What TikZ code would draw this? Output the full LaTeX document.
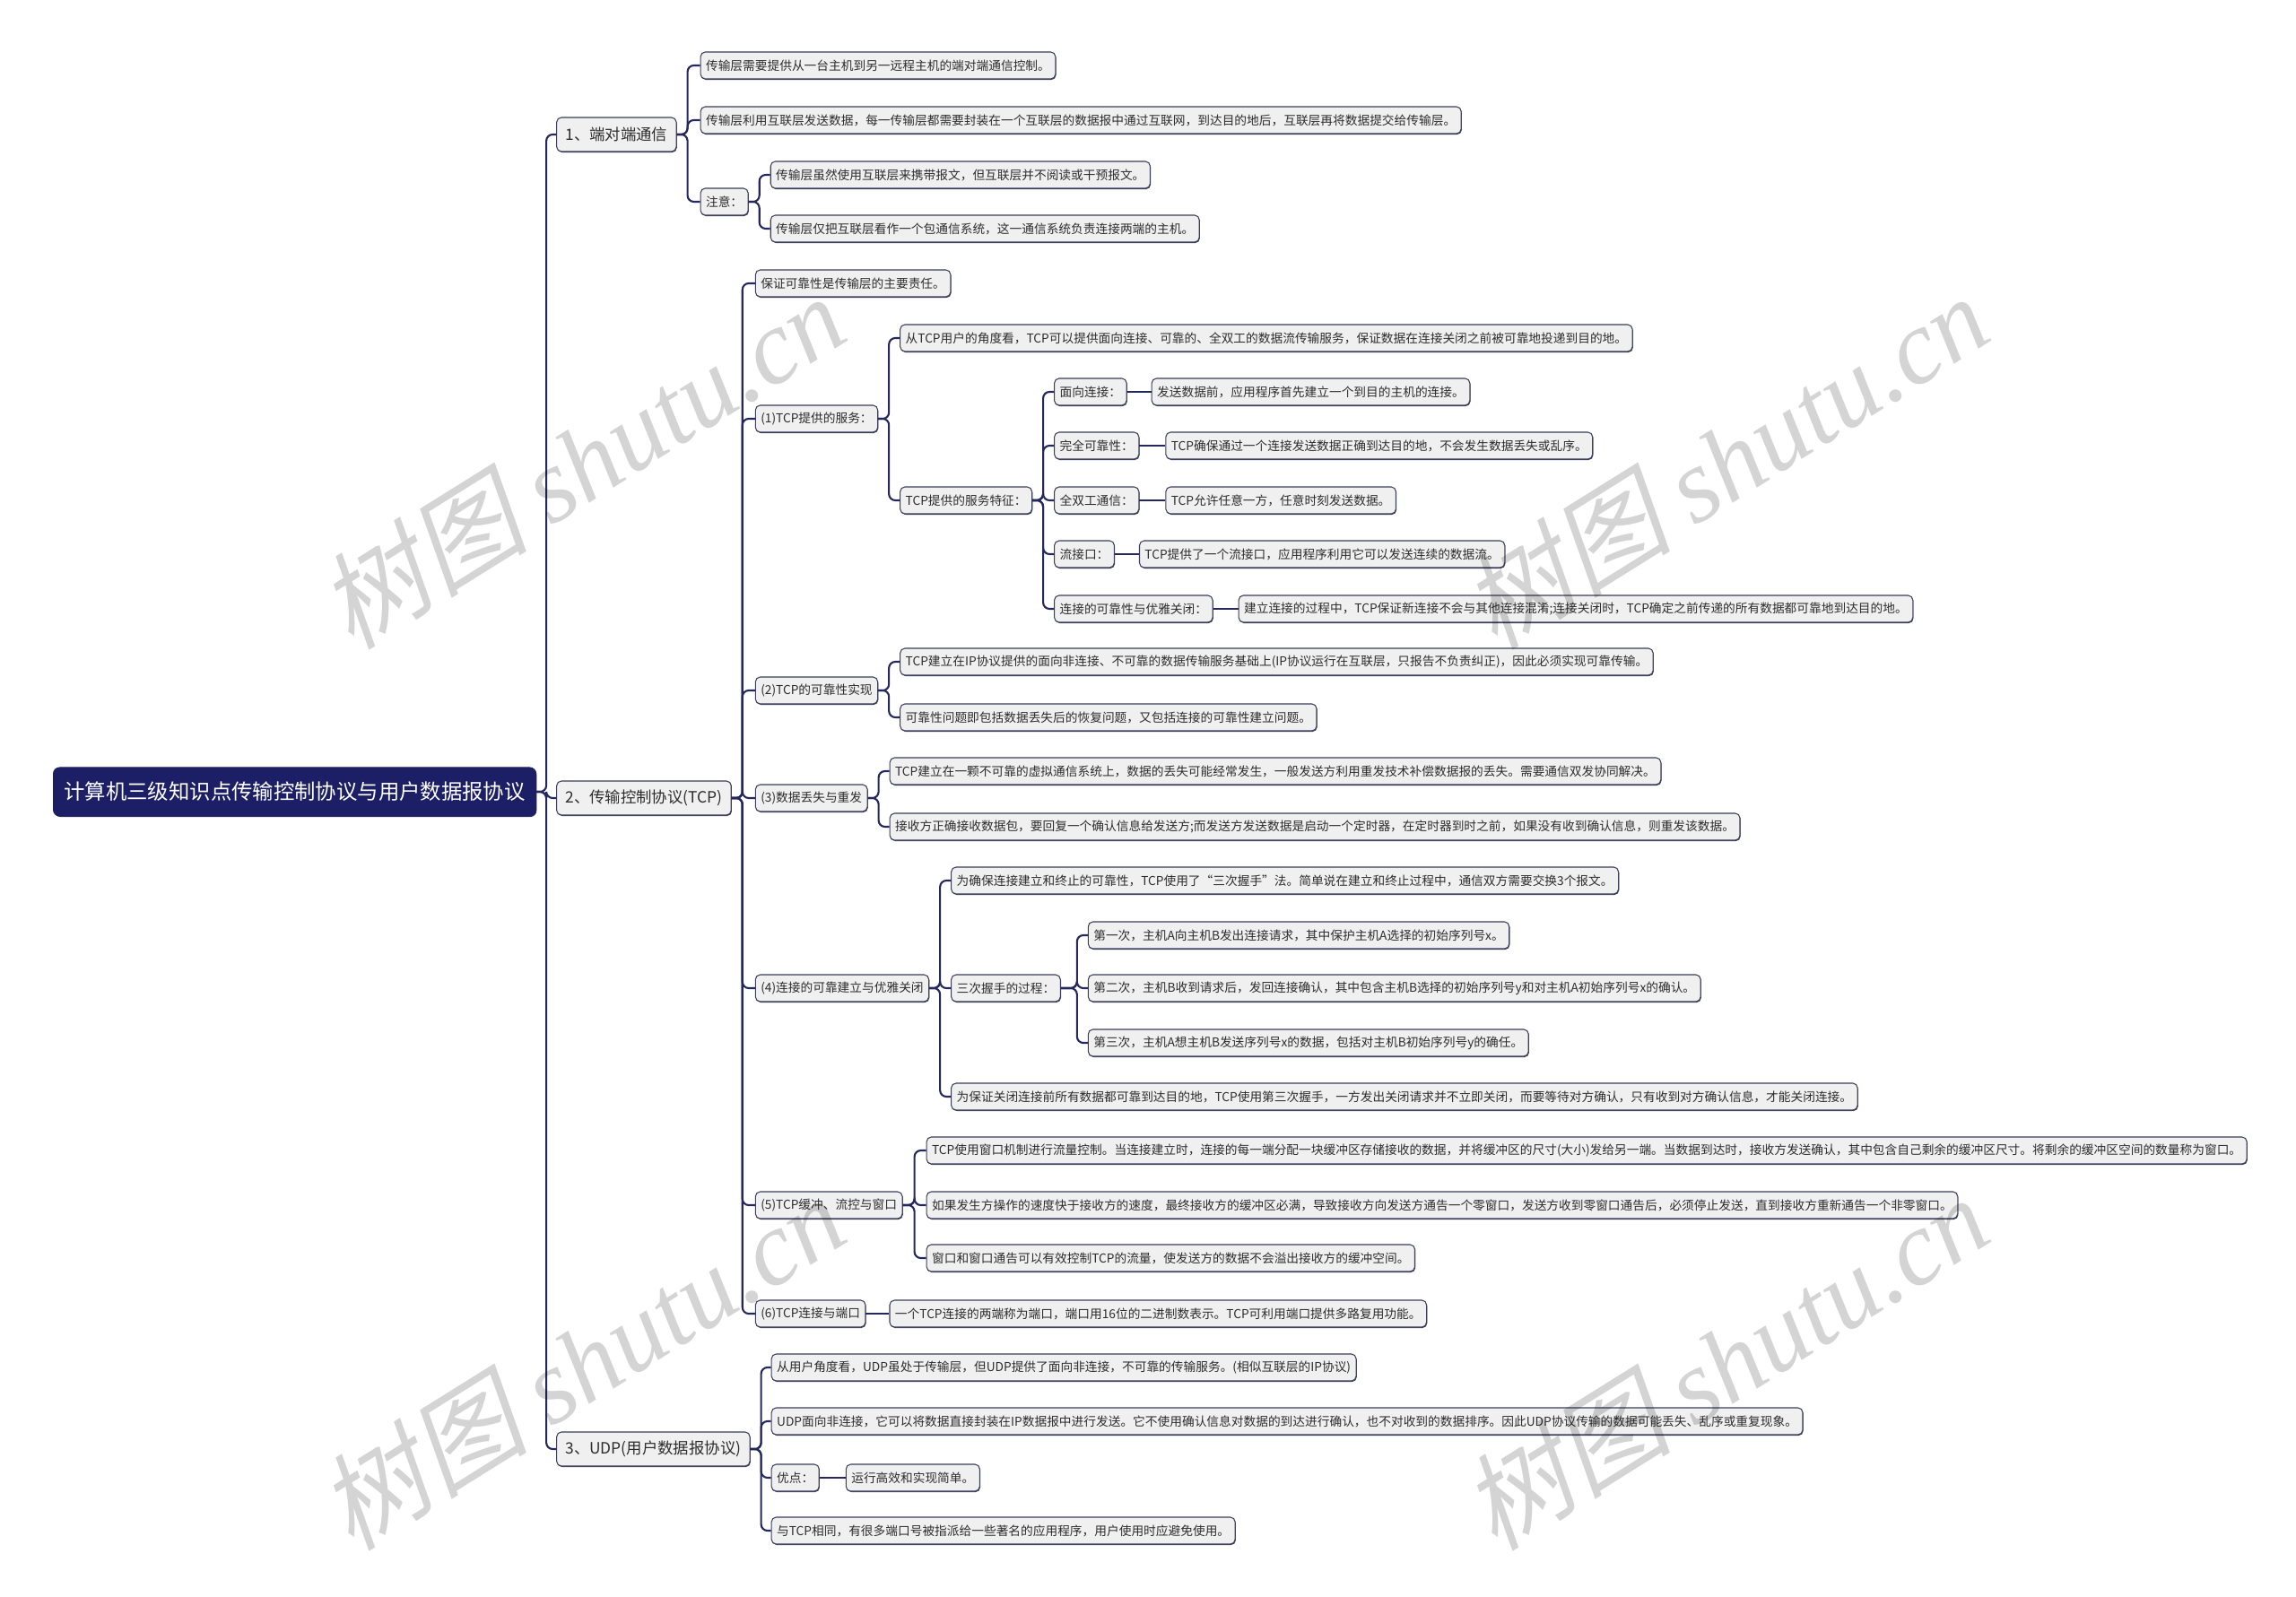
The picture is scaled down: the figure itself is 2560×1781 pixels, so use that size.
\documentclass[tikz,border=0pt]{standalone}
\usepackage{fontspec}
\setmainfont{Noto Sans CJK SC}
\newfontfamily\markcjk{Noto Sans CJK SC}[FakeSlant=0.22]
\newfontfamily\marklatin{Liberation Serif}
\usetikzlibrary{positioning, calc, shadows}
\definecolor{rootnavy}{RGB}{28, 31, 102}
\definecolor{linknavy}{RGB}{36, 40, 92}
\definecolor{boxline}{RGB}{60, 62, 90}
\definecolor{boxfill}{RGB}{240, 240, 240}
\definecolor{textgray}{RGB}{45, 45, 45}

\begin{document}
\begin{tikzpicture}[
    x=0.2mm, y=-0.2mm,
    leaf/.style={draw=boxline, fill=boxfill, line width=0.6pt, rounded corners=3pt,
        text=textgray, font=\fontsize{7.8}{9}\selectfont, inner xsep=3.4pt, inner ysep=0pt,
        minimum height=6mm, anchor=west,
        general shadow={fill=boxline, shadow xshift=0.4pt, shadow yshift=-0.6pt}},
    topic/.style={leaf, font=\fontsize{9.9}{11}\selectfont, inner xsep=5.5pt, minimum height=7.6mm},
    root/.style={topic, fill=rootnavy, draw=rootnavy, text=white, font=\fontsize{13.3}{15}\selectfont,
        inner xsep=6.8pt, minimum height=10.8mm, rounded corners=4pt},
    link/.style={draw=linknavy, line width=1.2pt, rounded corners=4pt},
    wmark/.style={rotate=32, text=black, text opacity=0.17, font=\fontsize{67}{72}\selectfont},
]
\useasboundingbox (0,0) rectangle (2560,1781);

% ===== 中心主题 =====
\node[root] (root) at (59,883) {计算机三级知识点传输控制协议与用户数据报协议};

% ===== 一级分支 =====
\node[topic] (p2p) at ($(root.east)+(22,-733)$) {1、端对端通信};
\node[topic] (tcp) at ($(root.east)+(22,7)$) {2、传输控制协议(TCP)};
\node[topic] (udp) at ($(root.east)+(22,733)$) {3、UDP(用户数据报协议)};

\foreach \k in {p2p, tcp, udp}
    \draw[link] (root.east) -- ++(11,0) |- (\k.west);

% ===== 1、端对端通信 =====
\node[leaf] (p2pa) at ($(p2p.east)+(26,-77)$) {传输层需要提供从一台主机到另一远程主机的端对端通信控制。};
\node[leaf] (p2pb) at ($(p2p.east)+(26,-16)$) {传输层利用互联层发送数据，每一传输层都需要封装在一个互联层的数据报中通过互联网，到达目的地后，互联层再将数据提交给传输层。};
\node[leaf] (note) at ($(p2p.east)+(26,75)$) {注意：};
\node[leaf] (notea) at ($(note.east)+(24,-30)$) {传输层虽然使用互联层来携带报文，但互联层并不阅读或干预报文。};
\node[leaf] (noteb) at ($(note.east)+(24,30)$) {传输层仅把互联层看作一个包通信系统，这一通信系统负责连接两端的主机。};

\foreach \k in {p2pa, p2pb, note}
    \draw[link] (p2p.east) -- ++(12,0) |- (\k.west);
\foreach \k in {notea, noteb}
    \draw[link] (note.east) -- ++(12,0) |- (\k.west);

% ===== 2、传输控制协议(TCP) =====
\node[leaf] (duty) at ($(tcp.east)+(26,-574)$) {保证可靠性是传输层的主要责任。};
\node[leaf] (svc)  at ($(tcp.east)+(26,-423)$) {(1)TCP提供的服务：};
\node[leaf] (rel)  at ($(tcp.east)+(26,-120)$) {(2)TCP的可靠性实现};
\node[leaf] (loss) at ($(tcp.east)+(26,0)$) {(3)数据丢失与重发};
\node[leaf] (conn) at ($(tcp.east)+(26,212)$) {(4)连接的可靠建立与优雅关闭};
\node[leaf] (flow) at ($(tcp.east)+(26,454)$) {(5)TCP缓冲、流控与窗口};
\node[leaf] (port) at ($(tcp.east)+(26,575)$) {(6)TCP连接与端口};

\foreach \k in {duty, svc, rel, loss, conn, flow, port}
    \draw[link] (tcp.east) -- ++(12,0) |- (\k.west);

% (1) 服务
\node[leaf] (svca) at ($(svc.east)+(24,-90)$) {从TCP用户的角度看，TCP可以提供面向连接、可靠的、全双工的数据流传输服务，保证数据在连接关闭之前被可靠地投递到目的地。};
\node[leaf] (feat) at ($(svc.east)+(24,91)$) {TCP提供的服务特征：};
\foreach \k in {svca, feat}
    \draw[link] (svc.east) -- ++(12,0) |- (\k.west);

\node[leaf] (feat1) at ($(feat.east)+(24,-121)$) {面向连接：};
\node[leaf] (feat2) at ($(feat.east)+(24,-61)$) {完全可靠性：};
\node[leaf] (feat3) at ($(feat.east)+(24,0)$) {全双工通信：};
\node[leaf] (feat4) at ($(feat.east)+(24,60)$) {流接口：};
\node[leaf] (feat5) at ($(feat.east)+(24,121)$) {连接的可靠性与优雅关闭：};
\foreach \k in {feat1, feat2, feat3, feat4, feat5}
    \draw[link] (feat.east) -- ++(12,0) |- (\k.west);

\node[leaf, right=5.4mm of feat1] (feat1t) {发送数据前，应用程序首先建立一个到目的主机的连接。};
\node[leaf, right=5.8mm of feat2] (feat2t) {TCP确保通过一个连接发送数据正确到达目的地，不会发生数据丢失或乱序。};
\node[leaf, right=5.8mm of feat3] (feat3t) {TCP允许任意一方，任意时刻发送数据。};
\node[leaf, right=5.4mm of feat4] (feat4t) {TCP提供了一个流接口，应用程序利用它可以发送连续的数据流。};
\node[leaf, right=5.6mm of feat5] (feat5t) {建立连接的过程中，TCP保证新连接不会与其他连接混淆;连接关闭时，TCP确定之前传递的所有数据都可靠地到达目的地。};
\foreach \i in {1,...,5}
    \draw[link] (feat\i.east) -- (feat\i t.west);

% (2) 可靠性
\node[leaf] (rela) at ($(rel.east)+(24,-32)$) {TCP建立在IP协议提供的面向非连接、不可靠的数据传输服务基础上(IP协议运行在互联层，只报告不负责纠正)，因此必须实现可靠传输。};
\node[leaf] (relb) at ($(rel.east)+(24,30)$) {可靠性问题即包括数据丢失后的恢复问题，又包括连接的可靠性建立问题。};
\foreach \k in {rela, relb}
    \draw[link] (rel.east) -- ++(12,0) |- (\k.west);

% (3) 丢失与重发
\node[leaf] (lossa) at ($(loss.east)+(24,-30)$) {TCP建立在一颗不可靠的虚拟通信系统上，数据的丢失可能经常发生，一般发送方利用重发技术补偿数据报的丢失。需要通信双发协同解决。};
\node[leaf] (lossb) at ($(loss.east)+(24,32)$) {接收方正确接收数据包，要回复一个确认信息给发送方;而发送方发送数据是启动一个定时器，在定时器到时之前，如果没有收到确认信息，则重发该数据。};
\foreach \k in {lossa, lossb}
    \draw[link] (loss.east) -- ++(12,0) |- (\k.west);

% (4) 建立与关闭
\node[leaf] (conna) at ($(conn.east)+(24,-120)$) {为确保连接建立和终止的可靠性，TCP使用了“三次握手”法。简单说在建立和终止过程中，通信双方需要交换3个报文。};
\node[leaf] (shake) at ($(conn.east)+(24,0)$) {三次握手的过程：};
\node[leaf] (connb) at ($(conn.east)+(24,121)$) {为保证关闭连接前所有数据都可靠到达目的地，TCP使用第三次握手，一方发出关闭请求并不立即关闭，而要等待对方确认，只有收到对方确认信息，才能关闭连接。};
\foreach \k in {conna, shake, connb}
    \draw[link] (conn.east) -- ++(12,0) |- (\k.west);

\node[leaf] (shake1) at ($(shake.east)+(30,-59)$) {第一次，主机A向主机B发出连接请求，其中保护主机A选择的初始序列号x。};
\node[leaf] (shake2) at ($(shake.east)+(30,0)$) {第二次，主机B收到请求后，发回连接确认，其中包含主机B选择的初始序列号y和对主机A初始序列号x的确认。};
\node[leaf] (shake3) at ($(shake.east)+(30,61)$) {第三次，主机A想主机B发送序列号x的数据，包括对主机B初始序列号y的确任。};
\foreach \k in {shake1, shake2, shake3}
    \draw[link] (shake.east) -- ++(18,0) |- (\k.west);

% (5) 缓冲与窗口
\node[leaf] (flowa) at ($(flow.east)+(26,-61)$) {TCP使用窗口机制进行流量控制。当连接建立时，连接的每一端分配一块缓冲区存储接收的数据，并将缓冲区的尺寸(大小)发给另一端。当数据到达时，接收方发送确认，其中包含自己剩余的缓冲区尺寸。将剩余的缓冲区空间的数量称为窗口。};
\node[leaf] (flowb) at ($(flow.east)+(26,0)$) {如果发生方操作的速度快于接收方的速度，最终接收方的缓冲区必满，导致接收方向发送方通告一个零窗口，发送方收到零窗口通告后，必须停止发送，直到接收方重新通告一个非零窗口。};
\node[leaf] (flowc) at ($(flow.east)+(26,59)$) {窗口和窗口通告可以有效控制TCP的流量，使发送方的数据不会溢出接收方的缓冲空间。};
\foreach \k in {flowa, flowb, flowc}
    \draw[link] (flow.east) -- ++(13,0) |- (\k.west);

% (6) 端口
\node[leaf, right=5.2mm of port] (porta) {一个TCP连接的两端称为端口，端口用16位的二进制数表示。TCP可利用端口提供多路复用功能。};
\draw[link] (port.east) -- (porta.west);

% ===== 3、UDP(用户数据报协议) =====
\node[leaf] (udpa) at ($(udp.east)+(23,-91)$) {从用户角度看，UDP虽处于传输层，但UDP提供了面向非连接，不可靠的传输服务。(相似互联层的IP协议)};
\node[leaf] (udpb) at ($(udp.east)+(23,-31)$) {UDP面向非连接，它可以将数据直接封装在IP数据报中进行发送。它不使用确认信息对数据的到达进行确认，也不对收到的数据排序。因此UDP协议传输的数据可能丢失、乱序或重复现象。};
\node[leaf] (adv)  at ($(udp.east)+(23,32)$) {优点：};
\node[leaf] (udpc) at ($(udp.east)+(23,91)$) {与TCP相同，有很多端口号被指派给一些著名的应用程序，用户使用时应避免使用。};
\foreach \k in {udpa, udpb, adv, udpc}
    \draw[link] (udp.east) -- ++(12,0) |- (\k.west);

\node[leaf, right=5.8mm of adv] (advt) {运行高效和实现简单。};
\draw[link] (adv.east) -- (advt.west);

% ===== 水印 =====
\foreach \mx/\my in {648/514, 1923/514, 648/1519, 1923/1519}
    \node[wmark] at (\mx,\my) {{\markcjk 树图} {\marklatin\itshape shutu.cn}};

\end{tikzpicture}
\end{document}
